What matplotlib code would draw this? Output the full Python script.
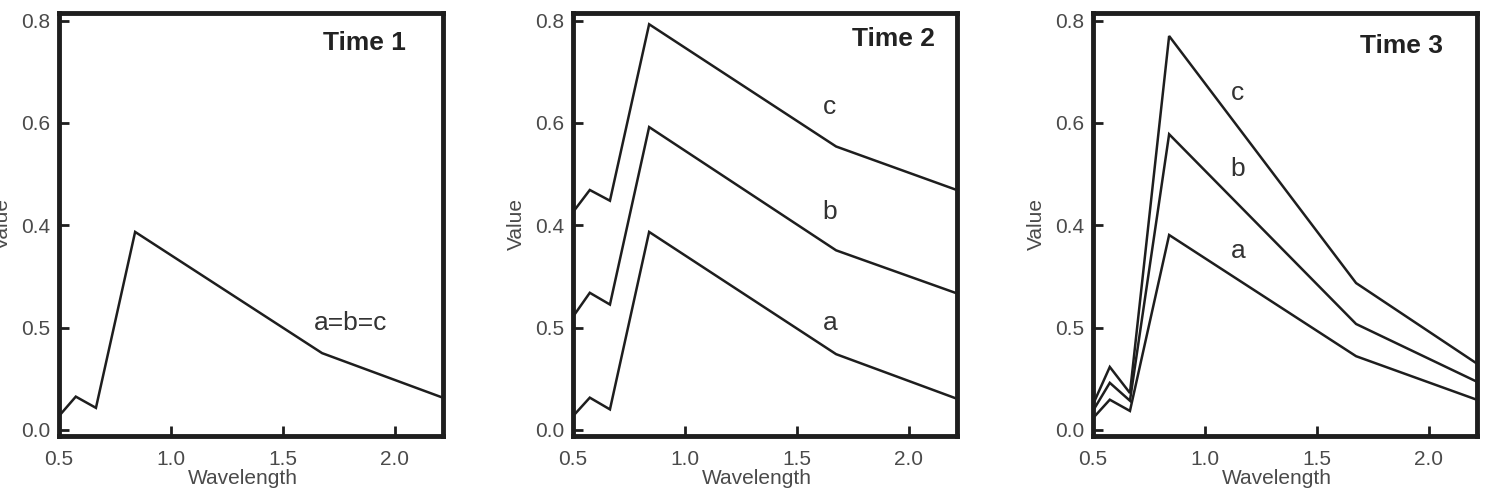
import matplotlib
matplotlib.use("Agg")
import matplotlib.pyplot as plt

plt.rcParams['font.family'] = ['Liberation Sans', 'DejaVu Sans']

wavelength = [0.49, 0.575, 0.665, 0.84, 1.675, 2.22]

time1_abc = [0.022, 0.065, 0.043, 0.387, 0.150, 0.062]

time2_a = [0.022, 0.063, 0.040, 0.387, 0.148, 0.060]
time2_b = [0.215, 0.268, 0.245, 0.592, 0.351, 0.266]
time2_c = [0.420, 0.469, 0.448, 0.793, 0.554, 0.468]

time3_a = [0.018, 0.059, 0.037, 0.381, 0.144, 0.058]
time3_b = [0.030, 0.092, 0.057, 0.578, 0.207, 0.093]
time3_c = [0.040, 0.123, 0.072, 0.770, 0.287, 0.128]

ytick_vals = [0.0, 0.2, 0.4, 0.6, 0.8]
ytick_labels = ["0.0", "0.5", "0.4", "0.6", "0.8"]
xtick_vals = [0.5, 1.0, 1.5, 2.0]
xtick_labels = ["0.5", "1.0", "1.5", "2.0"]

panels = [
    ("Time 1", [time1_abc], [("a=b=c", 1.80, 0.209)], (2.049, 0.757)),
    ("Time 2", [time2_a, time2_b, time2_c],
     [("a", 1.647, 0.209), ("b", 1.647, 0.426), ("c", 1.647, 0.631)], (2.116, 0.765)),
    ("Time 3", [time3_a, time3_b, time3_c],
     [("a", 1.147, 0.35), ("b", 1.147, 0.51), ("c", 1.147, 0.658)], (2.062, 0.750)),
]

fig = plt.figure(figsize=(14.86, 4.96), dpi=100)
lefts = [59, 573, 1093]
W, H = 1486, 496
line_col = "#1e1e1e"
text_col = "#4a4a4a"

for (title, series, labels, tpos), lpx in zip(panels, lefts):
    ax = fig.add_axes([lpx / W, 1 - 436 / H, 384 / W, 423 / H])
    for s in series:
        ax.plot(wavelength, s, color=line_col, lw=1.8, solid_joinstyle='miter')
    ax.set_xlim(0.5, 2.215)
    ax.set_ylim(-0.012, 0.815)
    ax.set_xticks(xtick_vals)
    ax.set_xticklabels(xtick_labels)
    ax.set_yticks(ytick_vals)
    ax.set_yticklabels(ytick_labels)
    ax.tick_params(axis='both', direction='in', length=7.5, width=2,
                   color=line_col, labelsize=15, labelcolor=text_col)
    ax.tick_params(axis='y', pad=6)
    ax.tick_params(axis='x', pad=10)
    for sp in ax.spines.values():
        sp.set_linewidth(3.5)
        sp.set_color(line_col)
    ax.set_xlabel("Wavelength", fontsize=15, color=text_col)
    ax.xaxis.set_label_coords(0.48, -0.078)
    ax.set_ylabel("Value", fontsize=15, color=text_col)
    ax.yaxis.set_label_coords(-0.122, 0.5)
    for txt, x, y in labels:
        ax.text(x, y, txt, fontsize=19, color="#333333", ha='center', va='center')
    ax.text(tpos[0], tpos[1], title, fontsize=19, fontweight='bold',
            color="#222222", ha='right', va='center')

fig.savefig("out.png", dpi=100)
